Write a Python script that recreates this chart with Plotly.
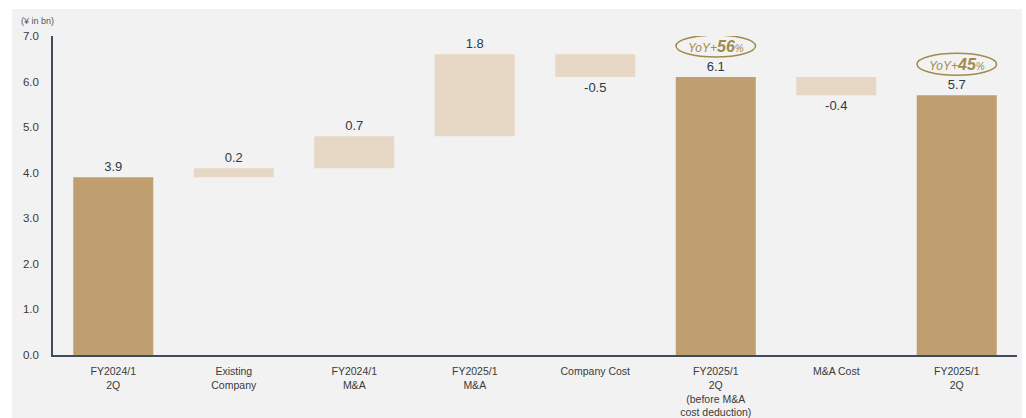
import plotly.graph_objects as go

categories = ["FY2024/1<br>2Q", "Existing<br>Company", "FY2024/1<br>M&A", "FY2025/1<br>M&A",
              "Company Cost", "FY2025/1<br>2Q<br>(before M&A<br>cost deduction)", "M&A Cost",
              "FY2025/1<br>2Q"]
values = [3.9, 0.2, 0.7, 1.8, -0.5, 6.1, -0.4, 5.7]
measures = ["absolute", "relative", "relative", "relative", "relative", "total", "relative", "total"]
yoy_labels = {5: "56", 7: "45"}
y_ticks = [0, 1, 2, 3, 4, 5, 6, 7]

TAN = "#bf9f6f"
LIGHT = "#e6d8c4"
GOLD = "#a08a4c"
TXT = "#2f3a48"

fig = go.Figure(go.Waterfall(
    x=categories, y=values, measure=measures,
    text=[f"{v:.1f}" for v in values], textposition="outside",
    textfont=dict(size=13, color=TXT, family="Arial, Liberation Sans, sans-serif"),
    increasing=dict(marker=dict(color=LIGHT)),
    decreasing=dict(marker=dict(color=LIGHT)),
    totals=dict(marker=dict(color=TAN)),
    connector=dict(visible=False),
    cliponaxis=False,
    hoverinfo="skip",
))

shapes = [dict(type="rect", xref="paper", yref="paper", x0=-0.0425, x1=1.0052, y0=-0.2, y1=1.0846,
               fillcolor="#f2f2f2", line=dict(width=0), layer="below")]
annotations = [dict(xref="paper", yref="paper", x=-0.035, y=1.047, xanchor="left", yanchor="middle",
                    text="(¥ in bn)", showarrow=False,
                    font=dict(size=9, color="#555555", family="Arial, Liberation Sans, sans-serif"))]

for idx, pct in yoy_labels.items():
    top = values[idx]
    cy = top + 0.68
    shapes.append(dict(type="circle", xref="x", yref="y", x0=idx - 0.33, x1=idx + 0.33,
                       y0=cy - 0.24, y1=cy + 0.24, line=dict(color=GOLD, width=1.5),
                       fillcolor="rgba(0,0,0,0)"))
    annotations.append(dict(xref="x", yref="y", x=idx, y=cy, showarrow=False,
                            text=(f"<i><span style='font-size:12px'>YoY+</span></i>"
                                  f"<b><i><span style='font-size:16px'>{pct}</span></i></b>"
                                  f"<i><span style='font-size:10px'>%</span></i>"),
                            font=dict(color=GOLD, family="Arial, Liberation Sans, sans-serif")))

fig.update_layout(
    width=1026, height=418,
    margin=dict(l=53, r=9, t=36, b=63),
    paper_bgcolor="white", plot_bgcolor="rgba(0,0,0,0)",
    showlegend=False, waterfallgap=0.336,
    shapes=shapes, annotations=annotations,
    font=dict(family="Arial, Liberation Sans, sans-serif", color=TXT),
)
fig.update_xaxes(showline=True, linecolor="#3e4c5c", linewidth=1.5, ticks="",
                 tickfont=dict(size=10.5, color="#3a3a3a"), showgrid=False, fixedrange=True,
                 automargin=False, ticklabelstandoff=6)
fig.update_yaxes(range=[0, 7], tickvals=y_ticks, tickformat=".1f", showline=True,
                 linecolor="#3e4c5c", linewidth=1.5, showgrid=False, zeroline=False,
                 ticks="", ticklabelstandoff=10, automargin=False,
                 tickfont=dict(size=11.5, color="#3a3a3a"))

fig.write_html("out.html")
